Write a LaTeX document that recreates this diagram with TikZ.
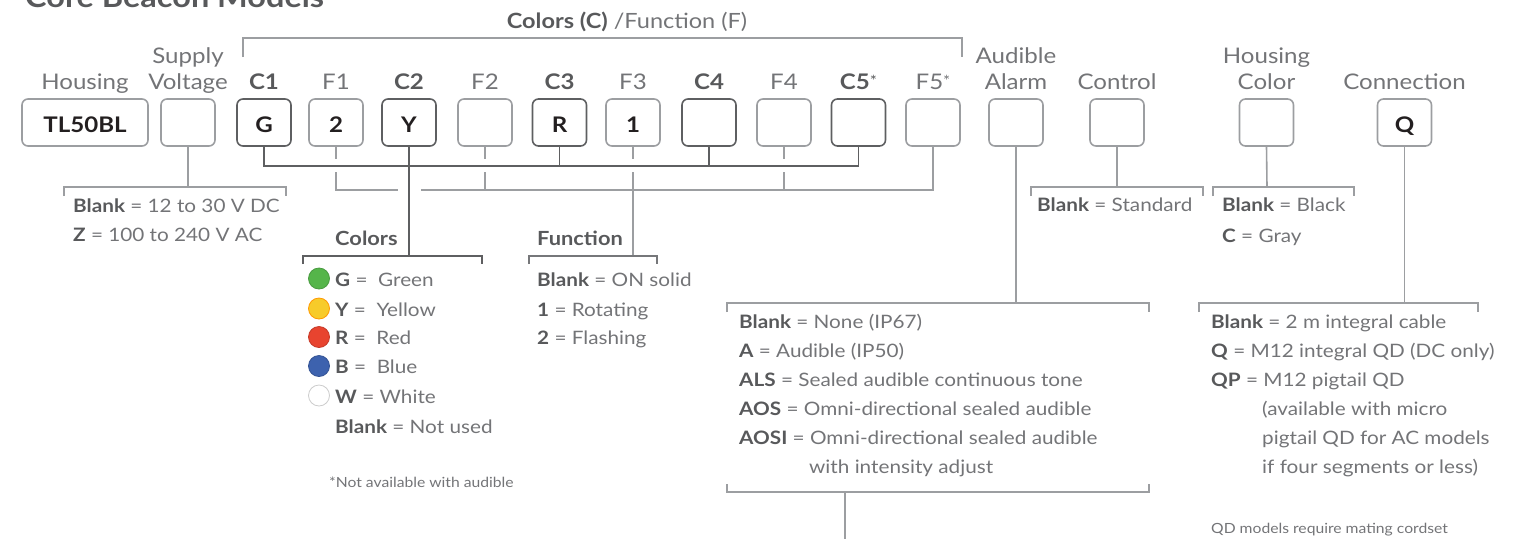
\documentclass[tikz,border=0pt]{standalone}
\usepackage{fontspec}
\setmainfont{Lato}[FakeStretch=1.12]
\definecolor{txt}{HTML}{737477}
\definecolor{bld}{HTML}{58595B}
\definecolor{dk}{HTML}{5E5F61}
\definecolor{md}{HTML}{76777A}
\definecolor{lt}{HTML}{9C9EA1}
\definecolor{ink}{HTML}{231F20}
\definecolor{dotG}{HTML}{55B54A}
\definecolor{dotY}{HTML}{F7CB2A}
\definecolor{dotR}{HTML}{E8442F}
\definecolor{dotB}{HTML}{3D62AE}
\newcommand\bk[1]{{\bfseries\color{bld}#1}}
\tikzset{
  box/.style={draw=lt, line width=1.6pt, rounded corners=6pt, minimum width=54pt, minimum height=47pt, inner sep=0pt, text height=20.4pt, text depth=0pt, font=\bfseries\fontsize{21.5}{21.5}\selectfont, text=ink},
  cbox/.style={box, draw=dk},
  lbl/.style={anchor=base, inner sep=0pt, font=\fontsize{21.5}{24}\selectfont, text=txt},
  clbl/.style={lbl, font=\bfseries\fontsize{21.5}{24}\selectfont, text=bld},
  hdr/.style={anchor=base west, inner sep=0pt, font=\bfseries\fontsize{19.5}{22}\selectfont, text=bld},
  lst/.style={anchor=base west, inner sep=0pt, font=\fontsize{18.5}{22}\selectfont, text=txt},
  note/.style={anchor=base west, inner sep=0pt, font=\fontsize{14}{16}\selectfont, text=txt},
  cl/.style={draw=dk, line width=1.6pt},
  fl/.style={draw=lt, line width=1.6pt},
  ml/.style={draw=md, line width=1.6pt},
  dot/.style={circle, minimum size=21pt, inner sep=0pt, line width=0.8pt},
}
\begin{document}
\begin{tikzpicture}[x=1pt, y=-1pt]
\useasboundingbox (0,0) rectangle (1515,539);

% title (cut at the top)
\node[anchor=base west, inner sep=0pt, font=\bfseries\fontsize{29}{31}\selectfont, text=bld] (title) at (25,7) {Core Beacon Models};

% header bracket
\node[anchor=base, inner sep=0pt, font=\fontsize{21}{24}\selectfont, text=txt] (hdrCF) at (627,28) {\bk{Colors (C)} /Function (F)};
\draw[fl] (243,57) |- (962,38) -- (962,57);

% boxes
\node[box, minimum width=126pt] (hs) at (85,122.5) {TL50BL};
\node[box] (sv) at (188,122.5) {};
\node[cbox] (c1) at (264,122.5) {G};
\node[box] (f1) at (336,122.5) {2};
\node[cbox] (c2) at (409,122.5) {Y};
\node[box] (f2) at (485,122.5) {};
\node[cbox] (c3) at (559.5,122.5) {R};
\node[box] (f3) at (633,122.5) {1};
\node[cbox] (c4) at (709,122.5) {};
\node[box] (f4) at (784,122.5) {};
\node[cbox] (c5) at (858.5,122.5) {};
\node[box] (f5) at (933,122.5) {};
\node[box] (al) at (1016,122.5) {};
\node[box] (ct) at (1117,122.5) {};
\node[box] (hc) at (1266.5,122.5) {};
\node[box] (cn) at (1404.5,122.5) {Q};

% labels
\node[lbl] (Lhs) at (85,89) {Housing};
\node[lbl] (Lsv1) at (188,63) {Supply};
\node[lbl] (Lsv2) at (188,89) {Voltage};
\node[clbl] (Lc1) at (264,89) {C1};
\node[lbl] (Lf1) at (336,89) {F1};
\node[clbl] (Lc2) at (409,89) {C2};
\node[lbl] (Lf2) at (485,89) {F2};
\node[clbl] (Lc3) at (559.5,89) {C3};
\node[lbl] (Lf3) at (633,89) {F3};
\node[clbl] (Lc4) at (709,89) {C4};
\node[lbl] (Lf4) at (784,89) {F4};
\node[clbl] (Lc5) at (858.5,89) {C5{\mdseries\fontsize{15}{15}\selectfont\raisebox{3pt}{*}}};
\node[lbl] (Lf5) at (933,89) {F5{\fontsize{15}{15}\selectfont\raisebox{3pt}{*}}};
\node[lbl] (Lal1) at (1016,63) {Audible};
\node[lbl] (Lal2) at (1016,89) {Alarm};
\node[lbl] (Lct) at (1117,89) {Control};
\node[lbl] (Lhc1) at (1266.5,63) {Housing};
\node[lbl] (Lhc2) at (1266.5,89) {Color};
\node[lbl] (Lcn) at (1404.5,89) {Connection};

% bus coordinates
\coordinate (cbus) at (0,166);
\coordinate (fbus) at (0,190);
\coordinate (gapA) at (0,159);
\coordinate (gapB) at (0,172);
\coordinate (fgapL) at (398,190);
\coordinate (fgapR) at (421,190);
\coordinate (colT) at (409,256);
\coordinate (funT) at (633,256);

% color bus
\draw[cl] (c1.south) |- (c5.south |- cbus) -- (c5.south);
\draw[cl] (c3.south) -- (c3.south |- cbus);
\draw[cl] (c4.south) -- (c4.south |- cbus);
\draw[cl] (c2.south) -- (colT);

% function bus
\foreach \f in {f1,f2,f3,f4} \draw[fl] (\f.south) -- (\f.south |- gapA);
\draw[fl] (f1.south |- gapB) |- (fgapL);
\draw[fl] (fgapR) -| (f5.south);
\draw[fl] (f2.south |- gapB) -- (f2.south |- fbus);
\draw[fl] (f4.south |- gapB) -- (f4.south |- fbus);
\draw[fl] (f3.south |- gapB) -- (funT);

% supply voltage
\coordinate (svT) at (188,187);
\draw[fl] (sv.south) -- (svT);
\draw[fl] (64,196) |- (286,187) -- (286,196);
\node[lst] (sv1) at (73,212) {\bk{Blank} = 12 to 30 V DC};
\node[lst] (sv2) at (73,241) {\bk{Z} = 100 to 240 V AC};

% colors
\node[hdr] (colH) at (335,245) {Colors};
\draw[cl] (303,264) |- (482,256) -- (482,264);
\node[dot, fill=dotG, draw=dotG!85!black] (dG) at (319,278.5) {};
\node[dot, fill=dotY, draw=orange!80!yellow] (dY) at (319,308.5) {};
\node[dot, fill=dotR, draw=dotR!85!black] (dR) at (319,337) {};
\node[dot, fill=dotB, draw=dotB!85!black] (dB) at (319,366) {};
\node[dot, fill=white, draw=black!20] (dW) at (319,395.5) {};
\node[lst] (lG) at (335,286) {\bk{G} =\ \ Green};
\node[lst] (lY) at (335,316) {\bk{Y} =\ \ Yellow};
\node[lst] (lR) at (335,344) {\bk{R} =\ \ Red};
\node[lst] (lB) at (335,373) {\bk{B} =\ \ Blue};
\node[lst] (lW) at (335,403) {\bk{W} = White};
\node[lst] (lN) at (335,433) {\bk{Blank} = Not used};
\node[note] (na) at (329,487) {*Not available with audible};

% function
\node[hdr] (funH) at (537,245) {Function};
\draw[ml] (529,264) |- (657,256) -- (657,264);
\node[lst] (fu1) at (537,286) {\bk{Blank} = ON solid};
\node[lst] (fu2) at (537,316) {\bk{1} = Rotating};
\node[lst] (fu3) at (537,344) {\bk{2} = Flashing};

% audible alarm
\coordinate (alT) at (1016,303);
\coordinate (alB) at (845,492);
\coordinate (alEnd) at (845,539);
\draw[fl] (al.south) -- (alT);
\draw[fl] (727,312) |- (1149,303) -- (1149,312);
\draw[fl] (727,484) |- (1149,492) -- (1149,484);
\draw[fl] (alB) -- (alEnd);
\node[lst] (a1) at (739,328) {\bk{Blank} = None (IP67)};
\node[lst] (a2) at (739,357) {\bk{A} = Audible (IP50)};
\node[lst] (a3) at (739,386) {\bk{ALS} = Sealed audible continuous tone};
\node[lst] (a4) at (739,415) {\bk{AOS} = Omni-directional sealed audible};
\node[lst] (a5) at (739,444) {\bk{AOSI} = Omni-directional sealed audible};
\node[lst] (a6) at (809,473) {with intensity adjust};

% control
\coordinate (ctT) at (1117,187);
\draw[fl] (ct.south) -- (ctT);
\draw[fl] (1031,196) |- (1203,187) -- (1203,196);
\node[lst] (ct1) at (1037,211) {\bk{Blank} = Standard};

% housing color
\coordinate (hcT) at (1267,187);
\draw[fl] (hc.south) -- (hcT);
\draw[fl] (1213,196) |- (1354,187) -- (1354,196);
\node[lst] (hc1) at (1222,211) {\bk{Blank} = Black};
\node[lst] (hc2) at (1222,242) {\bk{C} = Gray};

% connection
\coordinate (cnT) at (1404.5,303);
\draw[fl] (cn.south) -- (cnT);
\draw[fl] (1199,312) |- (1478,303) -- (1478,312);
\node[lst] (q1) at (1211,328) {\bk{Blank} = 2 m integral cable};
\node[lst] (q2) at (1211,357) {\bk{Q} = M12 integral QD (DC only)};
\node[lst] (q3) at (1211,386) {\bk{QP} = M12 pigtail QD};
\node[lst] (q4) at (1262,415) {(available with micro};
\node[lst] (q5) at (1262,444) {pigtail QD for AC models};
\node[lst] (q6) at (1262,473) {if four segments or less)};
\node[note] (qn) at (1211,533) {QD models require mating cordset};
\end{tikzpicture}
\end{document}
